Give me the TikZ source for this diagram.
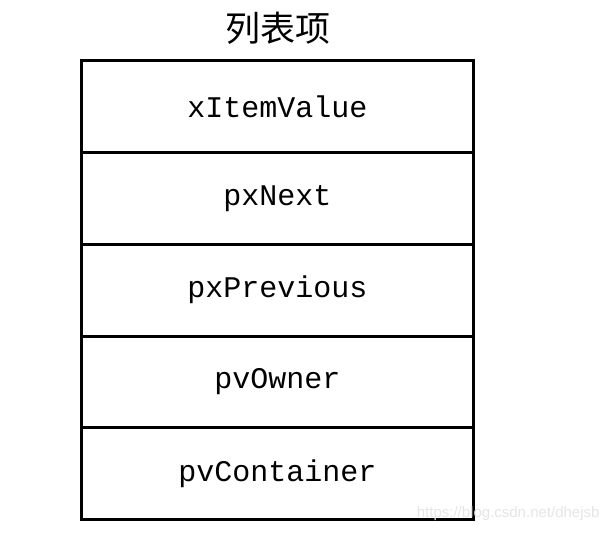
\documentclass[tikz,border=0pt]{standalone}
\usepackage{fontspec}
\setmonofont{Liberation Mono}
\setsansfont{Liberation Sans}
\newfontfamily\cjk{Noto Sans CJK SC}
\begin{document}
\begin{tikzpicture}[x=1pt,y=-1pt,
  cell/.style={draw=black,line width=3pt,minimum width=392pt,minimum height=91.8pt,inner sep=0pt,
    font=\ttfamily\fontsize{30}{30}\selectfont},
  titletext/.style={font=\cjk\fontsize{35}{35}\selectfont},
  wm/.style={font=\sffamily\fontsize{15}{15}\selectfont,text=black!10}]
\useasboundingbox (0,0) rectangle (613,533);
\node[titletext] (title) at (278,28) {列表项};
\node[cell] (c1) at (277.5,106.4) {xItemValue};
\node[cell] (c2) at (277.5,198.2) {pxNext};
\node[cell] (c3) at (277.5,290.1) {pxPrevious};
\node[cell] (c4) at (277.5,381.9) {pvOwner};
\node[cell] (c5) at (277.5,473.8) {pvContainer};
\node[wm,anchor=east] (wmark) at (603,514) {https://blog.csdn.net/dhejsb};
\end{tikzpicture}
\end{document}
